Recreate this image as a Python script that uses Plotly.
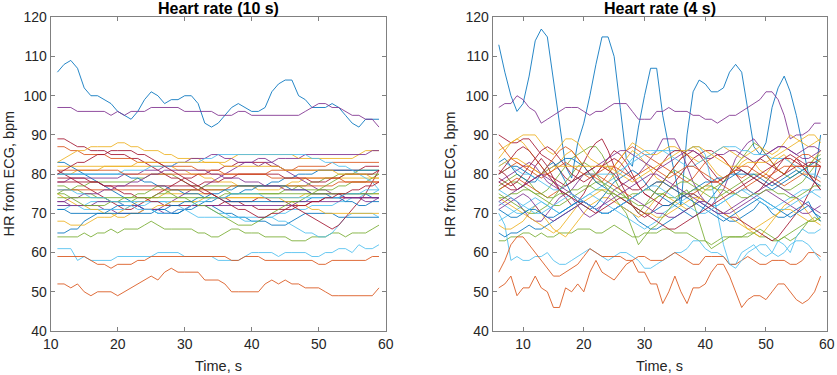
import plotly.graph_objects as go
from plotly.subplots import make_subplots

TIME_10S = list(range(11, 60))
TIME_4S = list(range(6, 60))

COLORS = ["#0072BD", "#D95319", "#EDB120", "#7E2F8E", "#77AC30", "#4DBEEE", "#A2142F"]

TITLE_10S = "Heart rate (10 s)"
TITLE_4S = "Heart rate (4 s)"
X_LABEL = "Time, s"
Y_LABEL = "HR from ECG, bpm"
Y_TICKS = [40, 50, 60, 70, 80, 90, 100, 110, 120]
X_TICKS = [10, 20, 30, 40, 50, 60]

# ---------------- 10 s window (x = 11..59) ----------------
L1 = [106,108,109,107,102,100,100,99,98,96, 95,94,96,99,101,100,98,99,99,100, 100,98,93,92,93,95,97,98,97,96, 96,97,101,103,104,104,100,99,97,97, 97,98,97,95,93,92,94,94,94]
L2 = [52,52,51,52,50,49,50,50,50,49, 50,51,52,53,54,53,55,56,55,55, 55,55,53,53,53,52,50,50,50,50, 50,52,53,52,53,52,52,51,51,51, 50,49,49,49,49,49,49,49,51]
L3 = [80,80,80,81,81,81,81,82,82,82, 82,82,82,82,82,82,82,82,81,81, 80,80,79,79,78,78,78,77,77,77, 76,76,76,76,77,78,78,79,79,79, 79,79,79,79,79,79,79,79,79]
L4 = [97,97,97,96,96,96,96,96,95,96, 95,96,96,96,97,97,97,97,97,96, 96,96,96,96,95,95,95,96,96,95, 95,95,95,95,95,95,95,96,97,98, 98,97,97,96,95,95,94,94,92]
L5 = [64,64,64,64,65,64,65,65,66,65, 66,66,66,67,68,67,66,66,66,66, 66,65,65,64,64,65,66,66,65,65, 65,64,64,64,64,63,63,63,64,64, 64,65,65,64,65,65,65,66,67]
L6 = [61,61,61,58,59,58,58,58,58,59, 59,59,59,59,59,60,60,60,60,59, 59,59,59,59,58,58,58,58,59,60, 60,60,60,59,60,60,60,60,59,59, 60,60,61,61,60,62,61,61,62]
L7 = [81,80,79,78,77,76,75,74,73,72, 71,71,72,73,74,75,76,77,78,79, 79,80,80,81,81,82,82,83,83,83, 83,83,82,82,81,81,81,81,81,81, 81,81,81,81,81,81,82,82,82]
L8 = [65,65,66,66,68,69,70,70,71,72, 72,72,72,71,71,71,71,70,70,71, 71,72,72,72,71,70,70,69,69,68, 68,68,67,67,67,68,69,70,70,70, 70,70,69,69,69,69,69,69,69]
L9 = [59,59,59,59,59,58,57,57,56,57, 57,57,58,58,59,59,59,59,59,59, 59,59,59,59,59,59,58,58,59,59, 59,58,58,58,58,58,58,58,58,57, 57,58,58,58,58,58,58,59,59]
L10 = [68,68,67,67,67,68,69,69,69,70, 71,72,73,73,74,74,75,75,75,75, 75,75,75,75,74,74,74,74,74,74, 74,74,74,74,74,74,74,75,75,75, 75,75,75,75,75,75,75,75,75]
L11 = [73,73,72,72,72,72,72,71,71,70, 70,70,70,71,71,71,72,73,74,75, 76,76,77,78,79,80,81,82,83,83, 84,84,83,82,81,80,79,78,77,76, 76,75,75,74,74,74,73,73,74]
L12 = [75,76,76,77,77,78,78,78,78,78, 78,78,79,79,80,80,80,80,79,78, 77,77,76,76,76,76,75,75,75,75, 75,75,75,75,76,76,77,77,78,78, 79,79,80,80,80,81,81,81,81]
L13 = [72,72,72,72,71,71,71,71,71,71, 71,72,72,72,73,73,73,73,73,73, 73,72,72,71,70,70,69,69,68,68, 68,69,69,70,70,71,71,71,72,72, 72,72,73,73,74,74,75,75,76]
L14 = [89,89,88,87,87,86,86,86,85,85, 85,84,84,83,82,81,80,79,79,78, 77,76,75,75,74,74,73,73,72,72, 71,71,71,71,71,72,72,72,73,73, 74,74,74,74,74,74,74,74,74]
L15 = [83,83,82,81,80,79,78,77,76,75, 74,73,72,71,71,70,70,70,70,71, 72,72,73,73,74,74,75,75,76,76, 77,77,78,78,79,79,80,80,80,81, 81,81,81,81,81,81,81,81,81]
L16 = [87,87,86,86,85,85,85,85,84,84, 84,84,83,83,83,83,82,82,82,82, 82,81,81,81,81,80,80,80,80,80, 80,80,81,81,81,81,82,82,82,82, 82,83,83,83,83,83,83,83,83]
L17 = [83,84,85,86,86,87,87,87,87,88, 88,87,87,86,86,86,85,85,84,84, 84,84,83,83,83,83,84,85,85,85, 85,85,85,85,85,85,84,84,84,84, 84,84,84,84,84,85,86,86,86]
L18 = [78,78,79,79,79,79,79,79,79,79, 80,80,80,81,81,81,82,82,83,83, 84,84,84,85,85,84,84,83,83,83, 82,83,83,84,84,84,84,85,85,85, 85,85,85,85,85,85,85,86,86]
L19 = [77,77,76,76,75,75,74,74,73,73, 73,73,74,74,74,75,75,76,76,76, 76,76,77,77,77,77,77,77,77,77, 77,77,77,77,77,77,77,76,76,76, 76,76,77,77,78,78,78,79,80]
L20 = [71,71,72,72,72,73,73,73,73,73, 73,73,73,73,73,73,73,72,72,71, 70,69,69,69,69,69,69,69,69,69, 69,69,69,68,68,67,66,65,65,64, 64,65,67,69,70,70,70,70,69]
L21 = [79,79,79,79,79,78,78,77,77,76, 75,75,74,74,73,73,72,72,72,72, 72,72,72,72,72,73,73,73,73,73, 74,74,73,73,73,72,71,70,69,68, 67,66,67,69,71,73,75,78,81]
L22 = [80,80,80,80,80,80,80,80,80,80, 80,79,79,78,78,77,77,76,76,75, 75,75,74,74,74,73,73,73,73,73, 73,73,73,73,73,73,73,73,74,74, 74,74,74,75,75,75,75,74,74]
L23 = [76,76,76,76,76,76,76,76,76,76, 76,76,76,76,76,76,76,76,76,76, 76,76,76,76,76,76,77,77,77,77, 77,77,77,77,77,77,77,77,77,77, 77,77,78,78,78,78,78,78,78]
L24 = [75,74,73,72,72,71,71,70,70,69, 69,70,70,71,71,72,72,73,73,73, 73,73,74,74,74,74,74,74,74,74, 74,74,74,74,73,73,72,72,71,71, 70,70,70,70,70,70,70,70,70]
L25 = [72,72,72,72,72,72,73,73,73,73, 72,72,72,71,71,71,70,70,71,71, 72,72,72,72,72,72,72,72,72,72, 72,72,72,72,72,72,73,73,73,73, 73,73,73,74,74,74,74,74,74]
L26 = [75,75,74,73,72,72,72,72,73,73, 74,74,75,75,76,77,76,75,74,74, 73,72,72,71,70,69,68,67,67,67, 68,69,70,71,72,73,73,74,75,76, 77,78,79,80,80,80,80,80,80]
L27 = [80,80,80,80,80,80,80,80,80,80, 81,81,81,81,82,82,82,82,83,83, 83,83,84,84,85,85,85,85,85,85, 85,85,85,85,85,85,85,85,84,84, 83,83,82,82,81,80,79,78,76]
L28 = [78,78,78,78,78,78,78,77,77,77, 77,77,77,77,77,77,77,77,77,77, 77,77,78,78,78,79,79,80,80,80, 80,80,80,80,79,79,79,79,78,78, 78,79,79,80,80,80,80,80,81]
L29 = [71,71,70,70,70,70,70,70,70,70, 70,70,70,70,70,71,71,72,72,73, 73,74,74,75,75,76,76,77,77,77, 77,77,77,77,77,76,76,76,75,75, 75,74,74,73,73,72,72,73,73]
L30 = [81,81,81,81,81,81,81,81,81,81, 80,80,80,80,80,80,80,80,80,80, 80,80,80,80,80,80,80,80,80,80, 80,80,79,79,79,79,79,79,79,79, 79,79,79,78,78,78,78,78,78]
L31 = [82,82,82,82,82,82,82,82,82,82, 82,82,83,83,83,83,83,83,83,83, 83,83,83,83,83,82,82,82,82,82, 82,82,82,82,81,81,81,81,81,81, 81,81,80,80,80,80,80,79,79]
L32 = [73,73,74,74,75,75,75,76,76,77, 77,78,78,79,80,80,81,81,81,81, 81,81,81,80,80,79,79,79,78,78, 78,77,77,77,76,76,76,76,75,75, 75,75,75,74,74,74,74,74,74]
L33 = [74,74,74,74,74,74,74,74,74,74, 74,74,74,74,74,74,74,74,74,74, 74,74,74,74,74,75,75,75,75,75, 75,75,75,75,75,75,75,75,75,75, 75,75,75,75,75,75,75,75,75]
L34 = [76,76,76,75,75,74,74,74,73,73, 72,72,71,71,71,70,70,70,71,71, 72,73,73,74,74,74,75,75,75,75, 75,74,74,74,74,74,74,74,74,74, 74,74,74,75,75,75,76,76,76]
L35 = [80,81,82,83,83,84,85,85,86,86, 86,86,85,85,84,83,82,81,80,79, 78,77,76,75,74,73,72,71,71,70, 69,69,70,70,71,71,72,72,73,73, 74,74,75,75,76,76,77,77,78]

# ---------------- 4 s window (x = 6..59) ----------------
R1 = [113,106,100,96,98,105,114,117,115,104, 92,82,79,88,93,100,108,115,115,110, 97,84,82,92,100,107,107,95,87,80, 72,90,101,104,103,101,101,102,106,108, 106,96,87,85,88,97,102,105,101,95, 87,80,79,90]
R2 = [51,52,54,49,51,51,54,51,50,46, 46,51,50,52,50,55,58,55,54,53, 55,57,58,55,55,52,52,47,50,54, 50,47,51,51,52,55,57,57,54,50, 46,48,49,49,48,50,52,52,50,48, 47,48,50,54]
R3 = [84,86,88,89,88,86,84,82,80,81, 83,85,86,84,82,80,78,77,78,80, 82,84,86,85,83,81,79,78,80,82, 84,86,87,86,84,82,80,79,80,81, 83,84,83,81,80,82,84,85,83,81, 80,82,84,86]
R4 = [97,98,98,100,99,97,96,93,94,95, 96,97,97,97,96,95,96,96,97,98, 98,98,96,94,94,94,96,96,97,96, 96,96,95,95,94,94,93,94,95,95, 96,97,98,99,101,101,99,95,89,90, 90,91,93,93]
R5 = [63,63,64,64,65,65,64,65,64,64, 65,65,65,66,66,66,65,65,66,67, 66,65,64,64,65,65,65,66,66,65, 65,65,64,63,63,62,63,64,64,64, 64,65,65,64,64,63,63,64,63,64, 66,68,69,68]
R6 = [70,67,58,59,58,58,59,59,60,58, 57,57,58,59,60,61,60,59,58,59, 60,60,59,58,56,56,57,58,59,60, 60,61,63,63,61,60,60,59,57,57, 60,61,62,60,59,60,63,62,60,64, 66,65,65,66]
R7 = [81,80,78,76,77,79,82,84,82,79, 76,74,72,73,75,78,80,82,84,86, 85,83,80,77,75,74,76,78,80,82, 84,85,86,85,83,81,79,78,80,82, 81,80,82,84,83,82,81,80,82,84, 83,82,82,82]
R8 = [65,64,65,65,66,67,66,66,67,68, 69,70,71,72,73,72,71,70,70,71, 72,71,70,68,67,66,66,67,68,69, 70,71,72,73,72,71,70,69,68,68, 69,70,71,73,72,70,69,69,70,71, 72,73,70,68]
R9 = [55,58,62,64,64,62,60,58,56,54, 54,55,56,57,59,61,60,59,59,59, 59,58,58,59,59,58,58,58,59,60, 59,58,57,57,59,59,59,59,57,57, 58,59,58,57,57,58,58,58,57,57, 58,60,60,59]
R10 = [67,66,66,67,68,70,72,70,68,66, 65,64,66,68,70,72,73,74,74,73, 72,71,70,69,70,72,74,75,74,73, 72,71,72,74,76,77,76,74,72,70, 68,66,65,64,66,68,70,72,73,74, 72,70,68,67]
R11 = [72,73,74,73,71,69,68,68,70,72, 74,75,74,72,70,69,70,72,74,76, 77,78,79,80,82,84,86,89,89,89, 86,82,78,75,73,72,74,76,80,84, 86,88,89,87,85,86,87,87,86,85, 84,84,85,86]
R12 = [77,78,79,80,79,78,76,75,76,78, 80,82,84,85,86,87,87,85,82,79, 76,74,72,70,72,74,76,78,80,81, 80,79,78,77,76,76,77,78,80,82, 84,86,88,87,85,83,81,80,79,80, 81,82,84,85]
R13 = [73,72,71,70,70,71,72,73,72,71, 70,71,72,73,74,75,74,73,72,71, 70,69,68,67,66,67,68,70,71,72, 73,74,75,74,73,72,72,73,74,75, 76,75,74,73,72,71,72,73,74,75, 76,76,75,74]
R14 = [90,89,88,88,89,89,87,85,84,83, 81,79,78,80,83,86,88,89,86,82, 78,75,72,70,69,70,72,74,76,78, 80,82,84,85,86,86,85,84,82,80, 78,76,75,76,78,80,82,84,85,84, 82,80,78,76]
R15 = [83,84,82,80,79,78,78,80,82,83, 81,78,75,73,72,71,72,74,76,78, 79,80,81,80,78,76,75,74,73,72, 71,70,69,70,72,74,76,78,79,80, 81,80,79,78,77,76,77,78,79,80, 81,82,83,84]
R16 = [88,86,84,83,82,82,81,80,82,84, 86,87,86,84,82,80,79,78,80,82, 84,86,87,86,85,84,83,82,81,80, 79,78,79,81,83,84,85,84,82,80, 79,80,82,84,85,83,81,80,82,84, 85,85,84,83]
R17 = [86,87,88,89,90,90,90,88,86,85, 87,89,89,88,86,84,83,82,81,82, 84,86,88,87,86,85,85,86,87,87, 86,85,84,83,84,85,86,87,86,85, 84,85,86,87,86,85,86,88,90,89, 88,87,88,89]
R18 = [78,79,80,81,82,83,82,80,78,77, 76,75,76,78,80,81,82,83,84,85, 86,86,85,84,83,82,81,82,83,84, 85,86,86,85,84,84,85,85,86,86, 85,84,83,84,85,86,87,87,86,85, 86,87,87,86]
R19 = [76,77,78,78,77,76,75,74,73,72, 72,73,74,75,76,77,78,78,77,76, 75,74,73,72,72,73,74,75,76,77, 78,78,77,76,75,74,74,75,76,77, 78,79,80,80,79,78,77,76,76,77, 78,80,82,84]
R20 = [68,69,70,71,72,73,74,73,72,71, 70,71,72,73,74,75,76,77,78,79, 80,82,84,85,86,86,86,86,86,86, 86,86,87,87,85,78,70,62,57,56, 58,60,61,62,62,60,59,60,62,63, 63,62,60,58]
R21 = [79,78,77,78,80,82,84,86,87,86, 84,82,80,79,78,79,80,82,83,84, 83,81,79,77,75,74,73,72,72,73, 74,75,75,74,73,72,71,70,69,69, 68,67,66,65,64,63,64,66,68,70, 72,75,78,82]
R22 = [80,81,82,82,81,80,79,80,81,82, 83,84,84,83,82,80,78,77,76,75, 74,73,72,71,70,70,71,72,72,73, 74,75,76,77,78,78,79,79,80,80, 80,80,80,79,78,77,78,79,80,81, 80,79,78,77]
R23 = [76,77,78,79,78,77,76,75,74,75, 76,77,78,79,80,80,80,79,78,77, 76,75,74,75,76,77,78,78,77,76, 75,74,75,76,77,78,78,77,76,75, 76,77,78,79,80,79,78,77,78,79, 80,80,79,78]
R24 = [74,73,72,71,70,69,68,67,66,65, 66,68,70,72,73,74,75,76,76,75, 74,73,72,71,70,70,69,69,70,71, 72,73,74,74,73,72,71,70,69,68, 67,66,66,67,68,69,70,71,71,70, 69,68,68,69]
R25 = [71,72,73,74,75,74,72,70,69,68, 69,70,71,72,73,72,71,70,70,71, 72,73,74,73,72,71,70,70,69,69, 70,71,72,73,73,72,71,70,70,71, 72,73,74,75,76,75,74,73,72,71, 70,70,71,72]
R26 = [75,74,73,72,71,70,70,71,72,74, 76,78,80,82,83,82,80,78,76,74, 72,70,66,62,64,66,67,69,71,73, 75,76,73,68,63,61,62,63,64,64, 64,64,65,66,65,64,63,64,65,66, 67,68,68,69]
R27 = [82,83,82,81,80,80,79,78,77,76, 76,77,78,79,80,80,80,80,80,80, 81,82,83,84,85,85,86,86,85,84, 83,82,82,83,84,85,86,87,87,87, 86,86,85,85,85,84,84,84,83,82, 81,80,80,79]
R28 = [78,77,76,76,77,78,79,80,80,79, 78,77,78,79,80,81,82,82,81,80, 78,77,76,76,77,79,81,83,85,86, 86,85,83,81,79,78,78,79,80,81, 81,80,79,78,77,78,79,80,81,82, 82,83,83,82]
R29 = [71,70,69,69,70,71,71,70,69,69, 70,71,72,73,73,72,71,70,70,71, 72,73,74,75,76,77,78,78,77,76, 75,74,73,72,71,70,69,68,69,70, 71,72,73,74,73,72,71,70,69,70, 71,72,70,69]
R30 = [80,81,82,83,82,81,80,79,80,81, 82,83,82,81,80,79,80,81,82,82, 81,80,79,80,81,82,81,80,79,80, 81,82,82,81,80,79,78,79,80,81, 82,82,81,80,79,80,81,82,82,82, 82,82,82,82]
R31 = [82,83,84,84,83,82,81,80,81,82, 82,82,82,82,82,82,82,82,82,81, 80,79,78,79,80,81,82,83,84,85, 86,86,87,87,86,85,84,83,82,82, 82,83,83,83,83,84,85,86,87,88, 89,90,90,88]
R32 = [73,74,75,76,77,78,79,80,79,78, 77,76,75,74,73,72,71,72,73,74, 75,76,77,78,79,80,80,79,78,77, 76,75,74,73,72,71,70,70,71,72, 73,74,75,76,77,78,77,76,75,74, 73,72,71,70]
R33 = [74,74,75,75,76,76,75,75,74,74, 75,75,76,76,77,77,76,76,75,75, 74,74,75,75,76,76,75,75,74,74, 75,75,76,76,77,77,76,76,75,75, 74,74,75,75,76,76,75,75,74,74, 75,76,77,77]
R34 = [76,75,74,73,72,71,70,70,71,72, 73,74,75,74,73,72,71,70,70,71, 72,73,74,75,76,77,77,76,75,74, 73,72,71,70,70,71,72,73,74,75, 76,76,75,74,73,72,71,71,72,73, 74,75,76,76]
R35 = [80,82,84,86,87,86,84,82,80,78, 76,75,74,73,72,71,70,71,72,73, 74,73,72,71,70,69,68,67,66,66, 67,68,69,70,71,72,73,74,75,76, 77,78,79,80,81,82,83,84,84,83, 82,80,78,76]

SERIES_10S = [L1, L2, L3, L4, L5, L6, L7, L8, L9, L10, L11, L12, L13, L14, L15, L16, L17, L18,
              L19, L20, L21, L22, L23, L24, L25, L26, L27, L28, L29, L30, L31, L32, L33, L34, L35]
SERIES_4S = [R1, R2, R3, R4, R5, R6, R7, R8, R9, R10, R11, R12, R13, R14, R15, R16, R17, R18,
             R19, R20, R21, R22, R23, R24, R25, R26, R27, R28, R29, R30, R31, R32, R33, R34, R35]

for i, s in enumerate(SERIES_10S):
    assert len(s) == len(TIME_10S), ("L", i + 1, len(s))
for i, s in enumerate(SERIES_4S):
    assert len(s) == len(TIME_4S), ("R", i + 1, len(s))

W, H = 837, 375
FONT = "Liberation Sans, Arial, Helvetica, sans-serif"
AX_COLOR = "#808080"
TXT = "#262626"

fig = make_subplots(rows=1, cols=2)

for i, s in enumerate(SERIES_10S):
    fig.add_trace(go.Scatter(x=TIME_10S, y=s, mode="lines", opacity=0.85,
                             line=dict(color=COLORS[i % 7], width=1),
                             showlegend=False, hoverinfo="skip"), row=1, col=1)
for i, s in enumerate(SERIES_4S):
    fig.add_trace(go.Scatter(x=TIME_4S, y=s, mode="lines", opacity=0.85,
                             line=dict(color=COLORS[i % 7], width=1),
                             showlegend=False, hoverinfo="skip"), row=1, col=2)

# plot-area pixel geometry
L_X0, L_X1 = 50.7, 385.7
R_X0, R_X1 = 492.7, 826.7
Y_TOP, Y_BOT = 17.3, 331.0

axis_common = dict(showgrid=False, zeroline=False, showline=True, linecolor=AX_COLOR,
                   linewidth=1, mirror="ticks", ticks="inside", ticklen=4,
                   tickcolor=AX_COLOR, tickwidth=1, automargin=False,
                   tickfont=dict(family=FONT, size=14, color=TXT))

fig.update_xaxes(axis_common)
fig.update_yaxes(axis_common)

fig.update_layout(
    template="none",
    width=W, height=H,
    margin=dict(l=0, r=0, t=0, b=0, pad=0),
    paper_bgcolor="white", plot_bgcolor="white",
    xaxis=dict(domain=[L_X0 / W, L_X1 / W], range=[10, 60], tickvals=X_TICKS),
    xaxis2=dict(domain=[R_X0 / W, R_X1 / W], range=[5, 60], tickvals=X_TICKS),
    yaxis=dict(domain=[1 - Y_BOT / H, 1 - Y_TOP / H], range=[40, 120], tickvals=Y_TICKS),
    yaxis2=dict(domain=[1 - Y_BOT / H, 1 - Y_TOP / H], range=[40, 120], tickvals=Y_TICKS),
)

annotations = []
for x0, x1, title in [(L_X0, L_X1, TITLE_10S), (R_X0, R_X1, TITLE_4S)]:
    cx = (x0 + x1) / 2 / W
    annotations.append(dict(text="<b>" + title + "</b>", x=cx, y=1 - 8.5 / H,
                            xref="paper", yref="paper", xanchor="center", yanchor="middle",
                            showarrow=False, font=dict(family=FONT, size=16, color="black")))
    annotations.append(dict(text=X_LABEL, x=cx, y=1 - 365.5 / H,
                            xref="paper", yref="paper", xanchor="center", yanchor="middle",
                            showarrow=False, font=dict(family=FONT, size=14.5, color=TXT)))
annotations.append(dict(text=Y_LABEL, x=8.5 / W, y=1 - 174 / H, textangle=-90,
                        xref="paper", yref="paper", xanchor="center", yanchor="middle",
                        showarrow=False, font=dict(family=FONT, size=14.5, color=TXT)))
annotations.append(dict(text=Y_LABEL, x=450 / W, y=1 - 174 / H, textangle=-90,
                        xref="paper", yref="paper", xanchor="center", yanchor="middle",
                        showarrow=False, font=dict(family=FONT, size=14.5, color=TXT)))
fig.update_layout(annotations=annotations)

fig.write_html("out.html", config={"displayModeBar": False, "staticPlot": True},
               post_script="document.body.style.margin='0px';document.body.style.overflow='hidden';")
